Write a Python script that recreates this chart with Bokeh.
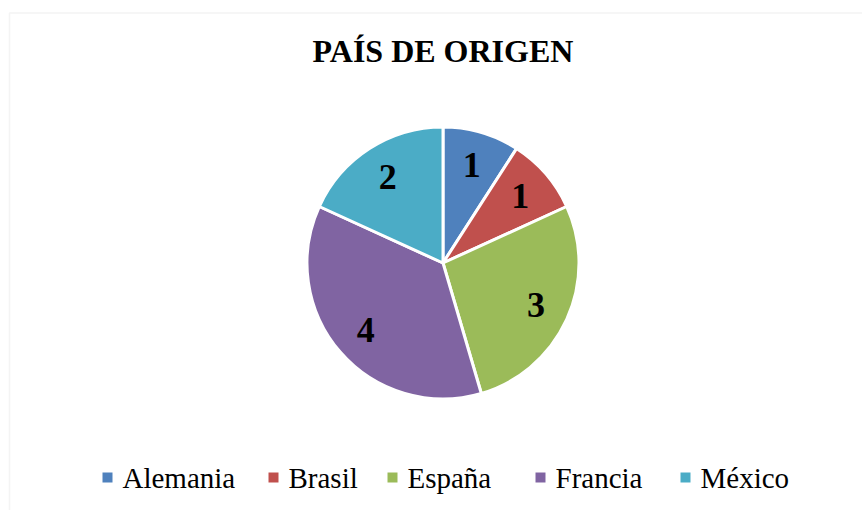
import math
from bokeh.plotting import figure
from bokeh.models import Range1d, BoxAnnotation, ColumnDataSource
from bokeh.core.properties import value
from bokeh.embed import file_html
from bokeh.resources import INLINE

# ---- data ----
title_text = "PAÍS DE ORIGEN"
countries = ["Alemania", "Brasil", "España", "Francia", "México"]
counts = [1, 1, 3, 4, 2]
colors = ["#4F81BD", "#C0504D", "#9BBB59", "#8064A2", "#4BACC6"]

# ---- layout ----
W, H = 862, 510
CX, CY, R = 442.5, 247.5, 136
LABEL_FRAC = 0.76
legend_text_x = [122, 288, 407, 555, 700]
legend_y_text = 33
legend_y_box = 33
SERIF = "Liberation Serif"

p = figure(width=W, height=H, x_range=Range1d(0, W), y_range=Range1d(0, H),
           output_backend="svg", toolbar_location=None, min_border=0,
           x_axis_type=None, y_axis_type=None)
p.grid.visible = False
p.outline_line_color = None
p.background_fill_color = "white"
p.border_fill_color = "white"

# frame border
p.add_layout(BoxAnnotation(left=9.0, right=W + 20, bottom=-20, top=497.5,
                           fill_alpha=0, line_color="#d9d9d9", line_width=1.5))

total = sum(counts)
starts, ends, lx, ly = [], [], [], []
cum = 0
for c in counts:
    a0 = math.pi / 2 - 2 * math.pi * cum / total
    a1 = math.pi / 2 - 2 * math.pi * (cum + c) / total
    starts.append(a0)
    ends.append(a1)
    mid = (a0 + a1) / 2
    lx.append(CX + LABEL_FRAC * (R - 1.5) * math.cos(mid))
    ly.append(CY + LABEL_FRAC * (R - 1.5) * math.sin(mid))
    cum += c

src = ColumnDataSource(dict(country=countries, count=counts, color=colors,
                            start=starts, end=ends, lx=lx, ly=ly,
                            lbl=[str(c) for c in counts]))

p.wedge(x=CX, y=CY, radius=R, start_angle="start", end_angle="end",
        direction="clock", fill_color="color", line_color="white",
        line_width=3, source=src)

p.text(x="lx", y="ly", text="lbl", source=src, text_align="center",
       text_baseline="middle", text_font=value(SERIF), text_font_style="bold",
       text_font_size="36px", text_color="black")

# title
p.text(x=[CX], y=[460], text=[title_text], text_align="center",
       text_baseline="middle", text_font=value(SERIF),
       text_font_style="bold", text_font_size="32px", text_color="black")

# legend
leg = ColumnDataSource(dict(country=countries, color=colors,
                            tx=legend_text_x,
                            bx=[x - 15 for x in legend_text_x]))
p.rect(x="bx", y=legend_y_box, width=10, height=10, fill_color="color",
       line_color=None, source=leg)
p.text(x="tx", y=legend_y_text, text="country", source=leg,
       text_align="left", text_baseline="middle", text_font=value(SERIF),
       text_font_size="29px", text_color="black")

open("out.html", "w").write(file_html(p, INLINE))
